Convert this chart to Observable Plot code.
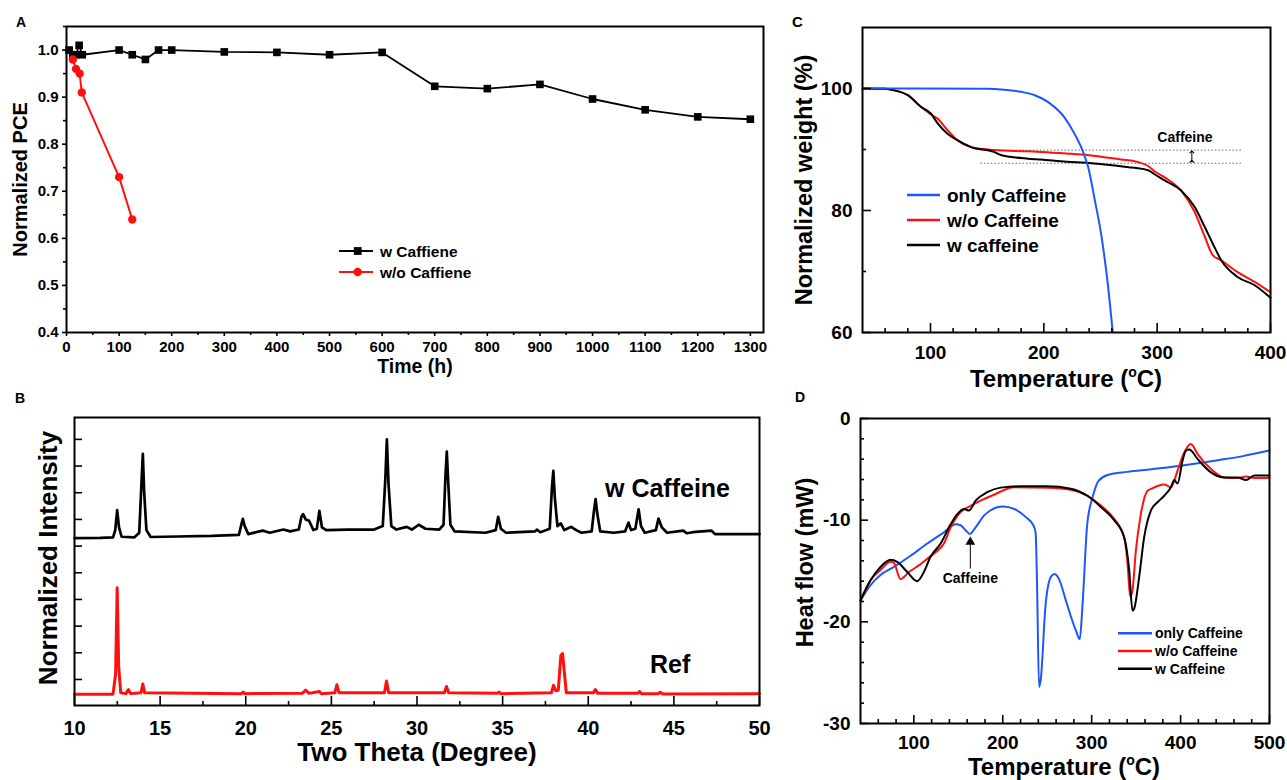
<!DOCTYPE html>
<html><head><meta charset="utf-8">
<script src="https://cdn.jsdelivr.net/npm/d3@7"></script>
<script src="https://cdn.jsdelivr.net/npm/@observablehq/plot@0.6"></script>
<style>
html,body{margin:0;padding:0;background:#fff;}
#root{position:relative;width:1287px;height:780px;overflow:hidden;background:#fff;}
#root svg{max-width:none;}
</style></head><body><div id="root"></div>
<script>
// ---------- Panel A : normalized PCE vs time ----------
const pceTimeW = [5, 12, 18, 24, 30, 100, 125, 150, 175, 200, 300, 400, 500, 600, 700, 800, 900, 1000, 1100, 1200, 1300];
const pceW     = [1.0, 0.99, 0.99, 1.01, 0.99, 1.0, 0.99, 0.98, 1.0, 1.0, 0.996, 0.995, 0.99, 0.995, 0.923, 0.918, 0.927, 0.896, 0.873, 0.858, 0.853];
const pceTimeWo = [12, 18, 25, 29, 100, 125];
const pceWo     = [0.98, 0.96, 0.95, 0.91, 0.73, 0.64];
const timeTicks = [0, 100, 200, 300, 400, 500, 600, 700, 800, 900, 1000, 1100, 1200, 1300];
const pceTicks  = [0.4, 0.5, 0.6, 0.7, 0.8, 0.9, 1.0];

// ---------- Panel B : XRD ----------
const xrdW = [[10,6.30],[11.5,6.31],[12.25,6.33],[12.38,6.6],[12.49,7.35],[12.6,6.7],[12.75,6.35],[13.5,6.33],[13.78,6.5],[13.9,8.2],[13.99,9.46],[14.07,8.0],[14.2,6.6],[14.45,6.34],[16.0,6.36],[18.0,6.38],[19.6,6.42],[19.74,6.8],[19.83,7.02],[19.94,6.75],[20.15,6.45],[21.0,6.58],[21.4,6.5],[22.2,6.62],[22.6,6.55],[23.1,6.62],[23.25,7.1],[23.35,7.2],[23.5,7.0],[23.7,6.95],[23.95,6.6],[24.15,6.65],[24.3,7.32],[24.45,6.7],[24.7,6.6],[26.0,6.62],[27.5,6.62],[28.0,6.75],[28.15,8.5],[28.24,10.0],[28.34,8.3],[28.5,6.75],[28.8,6.62],[29.4,6.72],[29.7,6.62],[30.1,6.8],[30.5,6.65],[31.3,6.62],[31.55,6.8],[31.66,8.6],[31.74,9.54],[31.83,8.3],[31.95,6.8],[32.2,6.55],[34.0,6.5],[34.6,6.6],[34.74,7.1],[34.9,6.65],[35.2,6.5],[36.9,6.55],[37.0,6.62],[37.2,6.52],[37.75,6.65],[37.88,8.2],[37.96,8.82],[38.05,7.8],[38.2,6.75],[38.4,6.85],[38.6,6.6],[39.0,6.72],[39.3,6.6],[39.6,6.5],[40.2,6.55],[40.33,7.3],[40.43,7.76],[40.53,7.2],[40.7,6.55],[41.5,6.5],[42.15,6.55],[42.35,6.88],[42.5,6.6],[42.75,6.65],[42.94,7.38],[43.08,6.75],[43.3,6.5],[43.95,6.6],[44.1,7.03],[44.3,6.7],[44.6,6.5],[45.55,6.58],[45.75,6.48],[46.1,6.52],[47.2,6.58],[47.4,6.45],[50.0,6.45]];
const xrdRef = [[10,0.45],[12.25,0.45],[12.4,1.2],[12.49,4.44],[12.58,1.5],[12.7,0.5],[13.0,0.47],[13.15,0.62],[13.28,0.47],[13.88,0.5],[13.99,0.83],[14.1,0.5],[19.75,0.47],[19.85,0.53],[19.95,0.47],[23.3,0.48],[23.5,0.6],[23.7,0.48],[24.3,0.55],[24.4,0.47],[25.2,0.5],[25.32,0.8],[25.45,0.5],[28.1,0.5],[28.22,0.94],[28.35,0.5],[31.6,0.5],[31.72,0.74],[31.85,0.5],[34.7,0.48],[34.8,0.53],[34.9,0.47],[37.85,0.5],[37.97,0.78],[38.1,0.58],[38.25,0.6],[38.4,1.9],[38.5,1.97],[38.6,1.3],[38.72,0.5],[40.3,0.5],[40.42,0.62],[40.55,0.48],[42.9,0.48],[43.0,0.55],[43.1,0.47],[44.1,0.47],[44.2,0.52],[44.35,0.46],[50.0,0.47]];
const thetaTicks = [10, 15, 20, 25, 30, 35, 40, 45, 50];
const intensityTicks = [1, 2, 3, 4, 5, 6, 7, 8, 9, 10];

// ---------- Panel C : TGA ----------
const tgaOnlyT = [40, 150, 165, 180, 192, 198, 205, 218, 227, 234, 239, 245, 250.5, 256.4, 260.8];
const tgaOnlyW = [100, 99.95, 99.8, 99.45, 98.9, 98.4, 97.6, 95.3, 92.6, 89.9, 87.2, 81.7, 76.2, 68, 60];
const tgaWoT = [40, 60, 68, 80, 91.5, 100, 106, 115, 124, 135.7, 156, 186, 198, 220, 240, 268, 282, 292, 298, 307, 321, 333, 342, 349, 356.5, 371, 386, 400];
const tgaWo  = [100, 99.95, 99.7, 98.9, 97, 95.8, 95.1, 93.2, 91.5, 90.4, 89.9, 89.7, 89.6, 89.35, 89.07, 88.36, 88.0, 87.3, 86.4, 85.4, 83.3, 79.8, 75.7, 72.7, 71.85, 69.9, 68.3, 66.6];
const tgaWT = [40, 60, 68, 80, 91.5, 100.3, 106.3, 115, 124, 135.7, 156, 162, 170, 186, 197.5, 220, 240, 268, 280, 292, 298, 307, 321, 333, 342, 349, 356.5, 371, 386, 400];
const tgaW  = [100, 99.95, 99.7, 98.9, 97, 95.9, 94.3, 92.6, 91.5, 90.4, 89.6, 89.1, 88.8, 88.5, 88.35, 88.0, 87.8, 87.26, 87.0, 86.6, 85.9, 84.9, 83.3, 80.6, 77.3, 74.6, 71.85, 69.1, 67.75, 65.7];
const tgaCaffeineLevels = [89.9, 87.75];
const tgaTempTicks = [100, 200, 300, 400];
const weightTicks = [60, 80, 100];

// ---------- Panel D : DSC ----------
const dscOnlyT = [40, 51.3, 62.5, 77.5, 96.3, 115.1, 133.8, 147, 152.6, 158.2, 163.1, 169.5, 178.9, 186, 193.9, 200, 213, 226, 235, 237, 238.5, 240.8, 242.7, 248, 254, 258, 263, 272, 282, 286.6, 289.6, 295, 301, 308, 318, 340, 367, 400, 442, 470, 500];
const dscOnly  = [-17.9, -16.4, -15.4, -14.6, -13.5, -12.3, -11.2, -10.4, -10.5, -11.0, -11.35, -10.7, -9.55, -9.05, -8.73, -8.66, -8.9, -9.7, -10.6, -11.3, -16, -26.4, -25.7, -18.5, -15.6, -15.3, -15.75, -18.2, -20.8, -21.7, -18.5, -10.4, -7.75, -6.1, -5.55, -5.25, -5.0, -4.65, -4.1, -3.7, -3.15];
const dscWoT = [40, 51.3, 62.5, 73.8, 77.5, 85, 94.4, 105.7, 115.1, 124.5, 133.8, 141.4, 152.6, 163.9, 175.1, 190, 212.7, 250, 276.5, 295.3, 310.3, 325.3, 336.6, 340.4, 343.3, 345.9, 349.7, 355.3, 362.8, 366.6, 381.6, 389.1, 396.6, 404.1, 411.6, 419.2, 434.2, 449.1, 464.2, 473.6, 483, 500];
const dscWo  = [-17.9, -15.9, -14.9, -14.1, -14.2, -15.8, -15.1, -14.45, -13.8, -13.15, -12.3, -10.7, -9.2, -8.6, -8.08, -7.5, -6.76, -6.8, -7.0, -7.6, -8.56, -9.87, -11.7, -14.3, -17.5, -16.9, -13.0, -9.4, -7.1, -6.93, -6.5, -6.76, -5.13, -3.33, -2.5, -3.5, -4.97, -5.8, -5.85, -5.7, -5.85, -5.85];
const dscWT = [40, 51.3, 62.5, 73.8, 81.3, 92.6, 103.8, 111.3, 118.8, 130.1, 141.4, 148.9, 156.4, 162, 169.5, 182.6, 197.7, 220, 250, 276.5, 295.3, 310.3, 325.3, 336.6, 342.2, 345.9, 347.8, 353.4, 359, 366.6, 374.1, 381.6, 389.1, 392.8, 396.6, 402.2, 406, 409.7, 419.2, 434.2, 449.1, 464.2, 473.6, 483, 500];
const dscW  = [-17.9, -15.9, -14.6, -13.9, -14.1, -15.1, -16.0, -15.1, -13.6, -12.3, -10.4, -9.4, -8.9, -9.05, -8.08, -7.25, -6.8, -6.67, -6.67, -6.9, -7.6, -8.7, -10.0, -11.7, -14.9, -18.9, -18.7, -15.6, -11.7, -9.05, -8.24, -7.6, -6.76, -6.05, -6.4, -4.15, -3.17, -3.05, -3.99, -5.3, -5.8, -5.8, -6.05, -5.6, -5.6];
const dscTempTicks = [100, 200, 300, 400, 500];
const heatTicks = [-30, -20, -10, 0];

// ---------- legends / labels ----------
const legendA = ["w Caffiene", "w/o Caffiene"];
const legendC = ["only Caffeine", "w/o Caffeine", "w caffeine"];
const legendD = ["only Caffeine", "w/o Caffeine", "w Caffeine"];

const FONT = '"Liberation Sans", Arial, Helvetica, sans-serif';
const RED = "#ff1010", BLUE = "#1f55ff", BLACK = "#000000";
const root = document.getElementById("root");
const zip = (xs, ys) => xs.map((x, i) => ({x, y: ys[i]}));
const none = () => "";

function axes(o) {
  const sw = 1.6;
  return [
    Plot.axisX(o.xMaj, {tickSize: o.tMaj, tickPadding: o.xPad, tickFormat: o.xFmt || (d => String(d)), label: null, strokeWidth: sw}),
    Plot.axisX(o.xMin, {tickSize: o.tMin, tickFormat: none, label: null, strokeWidth: sw}),
    Plot.axisY(o.yMaj, {tickSize: o.tMajY ?? o.tMaj, tickPadding: o.yPad, tickFormat: o.yFmt || (d => String(d)), label: null, strokeWidth: sw}),
    Plot.axisY(o.yMin, {tickSize: o.tMinY ?? o.tMin, tickFormat: none, label: null, strokeWidth: sw})
  ];
}

function panel(left, top, width, height, m, fs, xd, yd, marks) {
  const p = Plot.plot({
    width, height,
    marginTop: m[0], marginRight: m[1], marginBottom: m[2], marginLeft: m[3],
    x: {domain: xd, label: null},
    y: {domain: yd, label: null},
    style: {fontFamily: FONT, fontWeight: "bold", fontSize: fs + "px", color: "black", background: "transparent", overflow: "visible"},
    marks
  });
  const div = document.createElement("div");
  div.style.cssText = `position:absolute;left:${left}px;top:${top}px;width:${width}px;height:${height}px;`;
  div.appendChild(p);
  root.appendChild(div);
}

// Panel A
const aW = zip(pceTimeW, pceW), aWo = zip(pceTimeWo, pceWo);
panel(0, 0, 780, 380, [26, 17, 48, 66], 15, [0, 1325], [0.4, 1.05], [
  Plot.line(aW, {x: "x", y: "y", stroke: BLACK, strokeWidth: 1.8}),
  Plot.dot(aW, {x: "x", y: "y", symbol: "square", r: 4.3, fill: BLACK, stroke: "none"}),
  Plot.line(aWo, {x: "x", y: "y", stroke: RED, strokeWidth: 2}),
  Plot.dot(aWo, {x: "x", y: "y", r: 4.2, fill: RED, stroke: "none"}),
  ...axes({xMaj: timeTicks, xMin: d3.range(50, 1325, 100), yMaj: pceTicks, yMin: d3.range(0.45, 1.05, 0.1),
           tMaj: 4, tMin: 3, xPad: 5, yPad: 4, yFmt: d3.format(".1f")}),
  Plot.frame({strokeWidth: 2})
]);

// Panel B
const bW = xrdW.map(([x, y]) => ({x, y})), bR = xrdRef.map(([x, y]) => ({x, y}));
panel(0, 390, 780, 390, [27, 21, 75, 74], 20, [10, 50], [0.025, 10.82], [
  Plot.line(bW, {x: "x", y: "y", stroke: BLACK, strokeWidth: 2.7, strokeLinejoin: "round"}),
  Plot.line(bR, {x: "x", y: "y", stroke: RED, strokeWidth: 3, strokeLinejoin: "round"}),
  ...axes({xMaj: thetaTicks, xMin: d3.range(12.5, 50, 5), yMaj: intensityTicks.filter(d => d % 2 === 0), yMin: intensityTicks.filter(d => d % 2 === 1),
           tMaj: -9, tMin: -4, tMajY: -8, tMinY: -8, xPad: 24, yPad: 0, yFmt: none}),
  Plot.frame({strokeWidth: 2})
]);

// Panel C
panel(780, 0, 507, 390, [27, 17, 58, 82], 19, [40, 400], [60, 110], [
  Plot.ruleY(tgaCaffeineLevels, {y: d => d, x1: 144.5, x2: 376, stroke: "#666", strokeWidth: 1, strokeDasharray: "1.5,2"}),
  Plot.link([{t: 330.6}], {x1: "t", x2: "t", y1: 88.05, y2: 89.6, stroke: BLACK, strokeWidth: 1, markerStart: "arrow", markerEnd: "arrow"}),
  Plot.text(["Caffeine"], {x: 324.5, y: 91.93, text: d => d, fontSize: 14, fontWeight: "bold"}),
  Plot.line(zip(tgaWoT, tgaWo), {x: "x", y: "y", stroke: RED, strokeWidth: 2, curve: "monotone-x"}),
  Plot.line(zip(tgaWT, tgaW), {x: "x", y: "y", stroke: BLACK, strokeWidth: 2, curve: "monotone-x"}),
  Plot.line(zip(tgaOnlyT, tgaOnlyW), {x: "x", y: "y", stroke: BLUE, strokeWidth: 2, curve: "monotone-x", clip: true}),
  ...axes({xMaj: tgaTempTicks, xMin: d3.range(60, 400, 20).filter(d => d % 100 !== 0), yMaj: weightTicks, yMin: [70, 90],
           tMaj: -9, tMin: -4, xPad: 22, yPad: 19}),
  Plot.frame({strokeWidth: 2})
]);

// Panel D
panel(780, 390, 507, 390, [28, 18, 57, 80], 19, [40, 500], [-30, 0], [
  Plot.link([{t: 163.5}], {x1: "t", x2: "t", y1: -14.75, y2: -12.4, stroke: BLACK, strokeWidth: 1}),
  Plot.dot([{t: 163.5}], {x: "t", y: -12.15, symbol: "triangle", r: 3.6, fill: BLACK, stroke: "none"}),
  Plot.text(["Caffeine"], {x: 163.5, y: -15.7, text: d => d, fontSize: 14, fontWeight: 600}),
  Plot.line(zip(dscOnlyT, dscOnly), {x: "x", y: "y", stroke: BLUE, strokeWidth: 2, curve: "monotone-x"}),
  Plot.line(zip(dscWoT, dscWo), {x: "x", y: "y", stroke: RED, strokeWidth: 2, curve: "monotone-x"}),
  Plot.line(zip(dscWT, dscW), {x: "x", y: "y", stroke: BLACK, strokeWidth: 2, curve: "monotone-x"}),
  ...axes({xMaj: dscTempTicks, xMin: d3.range(60, 500, 20).filter(d => d % 100 !== 0), yMaj: heatTicks, yMin: d3.range(-28, 0, 2).filter(d => d % 10 !== 0),
           tMaj: -8, tMin: -4, xPad: 20, yPad: 18}),
  Plot.frame({strokeWidth: 2})
]);

// ---------- overlay: titles, legends, panel letters ----------
function T(x, y, s, fs, extra = "") {
  return `<text x="${x}" y="${y}" font-size="${fs}" font-weight="bold" ${extra}>${s}</text>`;
}
function R(cy, bx, s, fs) { // rotated title: bx = baseline x, cy = center y
  return `<text transform="translate(${bx},${cy}) rotate(-90)" text-anchor="middle" font-size="${fs}" font-weight="bold">${s}</text>`;
}
const degC = (fs) => `Temperature (<tspan font-size="${Math.round(fs * 0.6)}" dy="-${Math.round(fs * 0.42)}">o</tspan><tspan dy="${Math.round(fs * 0.42)}">C)</tspan>`;
let o = `<svg xmlns="http://www.w3.org/2000/svg" width="1287" height="780" style="position:absolute;left:0;top:0;overflow:visible" font-family='${FONT}' fill="#000">`;
// panel letters
o += T(16, 27.3, "A", 14) + T(15, 403.3, "B", 14) + T(792, 26.7, "C", 15) + T(795, 402, "D", 14);
// A titles
o += R(179.5, 26.7, "Normalized PCE", 20) + T(415, 373, "Time (h)", 19.5, 'text-anchor="middle"');
// B titles
o += R(558, 57, "Normalized Intensity", 26) + T(417, 761, "Two Theta (Degree)", 26, 'text-anchor="middle"');
o += T(605, 497.3, "w Caffeine", 25) + T(650, 672.7, "Ref", 25);
// C titles
o += R(180, 811.7, "Normalized weight (%)", 23.5) + T(1066, 386.5, degC(24), 24, 'text-anchor="middle"');
// D titles
o += R(562.5, 813, "Heat flow (mW)", 23.5) + T(1064, 774.5, degC(24), 24, 'text-anchor="middle"');
// Legend A
const legAc = [BLACK, RED], legAy = [251, 272];
legendA.forEach((s, i) => {
  o += `<line x1="339" x2="373" y1="${legAy[i]}" y2="${legAy[i]}" stroke="${legAc[i]}" stroke-width="2"/>`;
  o += i === 0 ? `<rect x="353.8" y="${legAy[i] - 3.9}" width="7.8" height="7.8" fill="${BLACK}"/>`
               : `<circle cx="357.7" cy="${legAy[i]}" r="4.2" fill="${RED}"/>`;
  o += T(380, legAy[i] + 5.6, s, 15.5);
});
// Legend C
const legC = [BLUE, RED, BLACK], legCy = [195, 220, 245];
legendC.forEach((s, i) => {
  o += `<line x1="907" x2="940" y1="${legCy[i]}" y2="${legCy[i]}" stroke="${legC[i]}" stroke-width="2.6"/>`;
  o += T(947, legCy[i] + 6.8, s, 19);
});
// Legend D
const legDy = [633.3, 651, 668.7];
legendD.forEach((s, i) => {
  o += `<line x1="1118" x2="1152" y1="${legDy[i]}" y2="${legDy[i]}" stroke="${legC[i]}" stroke-width="2.4"/>`;
  o += T(1155, legDy[i] + 5, s, 14);
});
o += `</svg>`;
root.insertAdjacentHTML("beforeend", o);
</script></body></html>
